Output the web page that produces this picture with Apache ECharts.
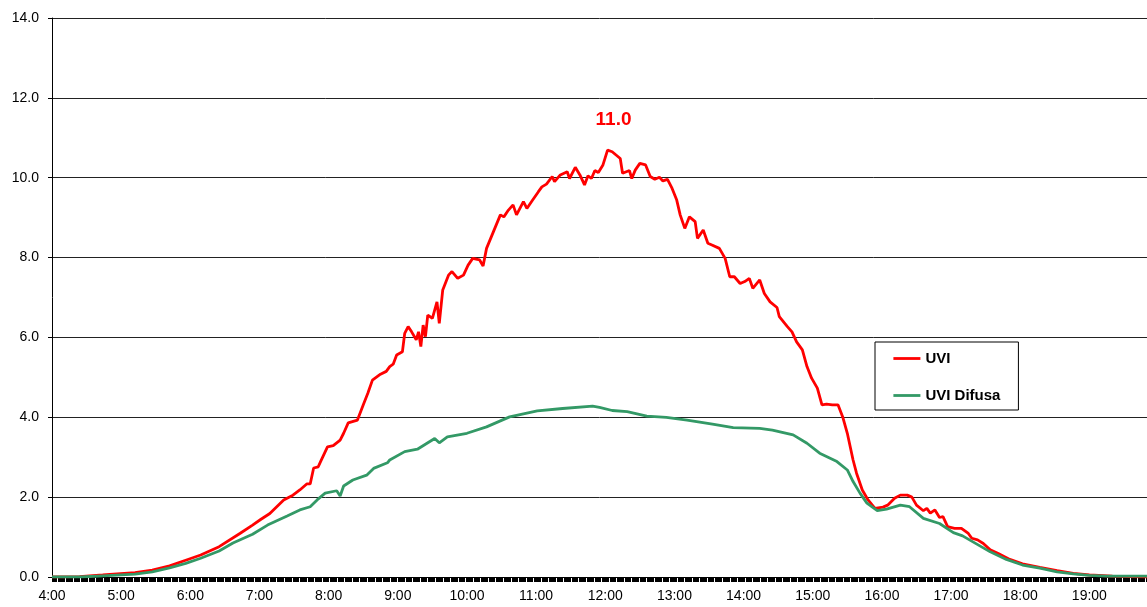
<!DOCTYPE html>
<html>
<head>
<meta charset="utf-8">
<script src="https://cdn.jsdelivr.net/npm/echarts@6/dist/echarts.min.js"></script>
<style>
  html, body { margin: 0; padding: 0; background: #fff; }
  #chart { width: 1147px; height: 607px; }
</style>
</head>
<body>
<div id="chart"></div>
<script>
// time in minutes since midnight (4:00 = 240)
var uviTimes = [240, 264, 284, 312, 327, 342, 356, 369, 385, 403, 414, 421, 429, 441, 449, 455, 461, 464, 467, 471, 473, 479,
  484, 490, 493, 497, 505, 510, 514, 518, 525, 530, 533, 536, 539, 544, 546, 549, 552, 556, 558, 560,
  562, 564, 566, 570, 574, 576, 579, 584, 587, 592, 597, 601, 605, 611, 614, 617, 623, 629, 632, 636,
  640, 643, 649, 652, 657, 662, 665, 669, 674, 676, 681, 687, 689, 694, 698, 702, 705, 708, 711, 714,
  718, 722, 726, 733, 735, 741, 743, 746, 750, 755, 759, 763, 767, 770, 774, 778, 782, 785, 789, 793,
  798, 800, 805, 809, 813, 819, 824, 828, 832, 837, 841, 845, 848, 854, 858, 863, 869, 871, 878, 882,
  886, 891, 895, 899, 904, 908, 912, 917, 922, 926, 930, 935, 938, 943, 948, 954, 961, 965, 971, 976,
  982, 986, 990, 996, 999, 1002, 1006, 1010, 1013, 1017, 1023, 1029, 1035, 1038, 1043, 1048, 1054, 1061, 1071, 1082,
  1097, 1112, 1126, 1140, 1160, 1190];
var uviValues = [0, 0.01, 0.05, 0.11, 0.17, 0.28, 0.42, 0.55, 0.76, 1.09, 1.30, 1.44, 1.59, 1.93, 2.05, 2.18, 2.33, 2.33, 2.73, 2.76, 2.89, 3.26,
  3.29, 3.43, 3.60, 3.86, 3.93, 4.31, 4.60, 4.93, 5.08, 5.15, 5.27, 5.33, 5.56, 5.64, 6.10, 6.27, 6.14, 5.94, 6.14, 5.77,
  6.31, 6.02, 6.56, 6.48, 6.89, 6.35, 7.19, 7.56, 7.65, 7.48, 7.56, 7.81, 7.98, 7.94, 7.79, 8.23, 8.65, 9.07, 9.02, 9.19,
  9.32, 9.07, 9.40, 9.23, 9.44, 9.65, 9.77, 9.84, 10.03, 9.90, 10.07, 10.15, 9.98, 10.26, 10.07, 9.82, 10.05, 9.98, 10.18, 10.13,
  10.32, 10.69, 10.65, 10.48, 10.11, 10.18, 9.98, 10.19, 10.36, 10.32, 10.03, 9.96, 10.01, 9.92, 9.96, 9.73, 9.44, 9.07, 8.73, 9.02,
  8.90, 8.48, 8.69, 8.36, 8.31, 8.23, 7.98, 7.52, 7.52, 7.35, 7.40, 7.48, 7.23, 7.44, 7.10, 6.89, 6.75, 6.52, 6.27, 6.14,
  5.89, 5.69, 5.27, 4.98, 4.73, 4.31, 4.33, 4.31, 4.31, 4.01, 3.60, 2.93, 2.60, 2.18, 1.93, 1.72, 1.75, 1.80, 1.97, 2.05,
  2.05, 2.00, 1.80, 1.66, 1.72, 1.60, 1.68, 1.49, 1.51, 1.26, 1.22, 1.22, 1.09, 0.97, 0.93, 0.84, 0.68, 0.59, 0.44, 0.33,
  0.24, 0.16, 0.09, 0.05, 0.02, 0];

var difTimes = [240, 264, 284, 312, 327, 342, 356, 369, 385, 397, 414, 427, 444, 455, 464, 470, 477, 487, 490, 493, 501, 513,
  519, 531, 533, 546, 557, 572, 576, 583, 600, 617, 637, 661, 683, 709, 715, 726, 739, 756, 773, 791,
  813, 831, 854, 865, 883, 895, 906, 921, 930, 935, 941, 947, 956, 964, 976, 984, 996, 1010, 1022, 1030,
  1039, 1054, 1068, 1082, 1097, 1112, 1126, 1140, 1155, 1190];
var difValues = [0, 0.0, 0.03, 0.07, 0.13, 0.23, 0.34, 0.47, 0.65, 0.85, 1.07, 1.30, 1.53, 1.68, 1.76, 1.93, 2.10, 2.16, 2.03, 2.28, 2.43, 2.55,
  2.72, 2.86, 2.93, 3.14, 3.20, 3.47, 3.36, 3.51, 3.60, 3.76, 4.01, 4.16, 4.22, 4.28, 4.25, 4.17, 4.14, 4.03, 4.00, 3.93,
  3.83, 3.74, 3.72, 3.68, 3.56, 3.35, 3.10, 2.89, 2.68, 2.39, 2.10, 1.85, 1.66, 1.70, 1.80, 1.76, 1.47, 1.34, 1.11, 1.03,
  0.88, 0.63, 0.44, 0.30, 0.22, 0.13, 0.08, 0.04, 0.02, 0.02];

var seriesNames = ['UVI', 'UVI Difusa'];
var peakLabel = '11.0';

var chart = echarts.init(document.getElementById('chart'), null, { renderer: 'canvas' });

function pairs(t, v) {
  return t.map(function (x, i) { return [x, v[i]]; });
}

var option = {
  animation: false,
  backgroundColor: '#fff',
  color: ['#FF0000', '#339966'],
  grid: {
    left: 52,
    right: 0,
    top: 18,
    bottom: 30,
    containLabel: false,
    outerBoundsMode: 'none'
  },
  legend: {
    orient: 'vertical',
    left: 875,
    top: 342,
    padding: [9, 18, 7, 17],
    itemGap: 22,
    itemWidth: 27,
    itemHeight: 14,
    borderColor: '#000',
    borderWidth: 1,
    backgroundColor: '#fff',
    itemStyle: { opacity: 0 },
    lineStyle: { width: 2.8 },
    textStyle: {
      fontFamily: 'Arial, Liberation Sans, sans-serif',
      fontWeight: 'bold',
      fontSize: 15,
      color: '#000'
    },
    data: seriesNames
  },
  xAxis: {
    type: 'value',
    min: 240,
    max: 1190,
    interval: 60,
    axisLine: { show: true, lineStyle: { color: '#000', width: 1 } },
    axisTick: { show: true, length: 5, lineStyle: { color: '#000' } },
    minorTick: { show: true, splitNumber: 60, length: 5, lineStyle: { color: '#000', width: 1 } },
    splitLine: { show: false },
    axisLabel: {
      margin: 12,
      color: '#000',
      fontFamily: 'Arial, Liberation Sans, sans-serif',
      fontSize: 14,
      showMaxLabel: false,
      formatter: function (v) {
        if (v % 60 !== 0) return '';
        return Math.floor(v / 60) + ':00';
      }
    }
  },
  yAxis: {
    type: 'value',
    min: 0,
    max: 14,
    interval: 2,
    axisLine: { show: true, lineStyle: { color: '#000', width: 1 } },
    axisTick: { show: true, length: 4, lineStyle: { color: '#000' } },
    splitLine: { show: true, lineStyle: { color: '#222', width: 1 } },
    axisLabel: {
      margin: 13,
      color: '#000',
      fontFamily: 'Arial, Liberation Sans, sans-serif',
      fontSize: 14,
      formatter: function (v) { return v.toFixed(1); }
    }
  },
  series: [
    {
      name: seriesNames[0],
      type: 'line',
      symbol: 'none',
      lineStyle: { width: 2.8, color: '#FF0000' },
      data: pairs(uviTimes, uviValues),
      markPoint: {
        symbol: 'circle',
        symbolSize: 0,
        data: [{ type: 'max' }],
        label: {
          show: true,
          offset: [6, -30],
          color: '#FF0000',
          fontFamily: 'Arial, Liberation Sans, sans-serif',
          fontWeight: 'bold',
          fontSize: 19,
          formatter: function () { return peakLabel; }
        }
      }
    },
    {
      name: seriesNames[1],
      type: 'line',
      symbol: 'none',
      lineStyle: { width: 2.8, color: '#339966' },
      data: pairs(difTimes, difValues)
    }
  ]
};

chart.setOption(option);
</script>
</body>
</html>
